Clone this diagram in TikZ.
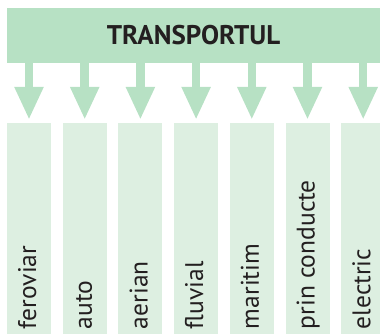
\documentclass[tikz,border=0pt]{standalone}
\usepackage{fontspec}
\setmainfont{PT Sans}
\usepackage{tikz}
\usetikzlibrary{positioning,arrows.meta}
\definecolor{headgreen}{RGB}{183,225,196}
\definecolor{palegreen}{RGB}{221,239,225}
\definecolor{titleink}{RGB}{35,31,32}

\begin{document}
\begin{tikzpicture}[x=1pt,y=-1pt,
  hdr/.style={rectangle,fill=headgreen,minimum width=373pt,minimum height=55pt,
    inner sep=0pt,text=titleink,font=\fontsize{27}{30}\selectfont\bfseries},
  column/.style={rectangle,fill=palegreen,minimum width=44pt,minimum height=211pt,inner sep=0pt},
  lbl/.style={rotate=90,anchor=west,inner sep=0pt,text height=0.72em,text depth=0pt,
    text=titleink,font=\fontsize{25.5}{28}\selectfont},
  fatarrow/.style={draw=headgreen,line width=8.5pt,shorten >=3pt,
    -{Triangle[length=33pt,width=27pt]}}
]
\useasboundingbox (0,0) rectangle (380,334);
\clip (0,0) rectangle (380,334);

% Top: the main box
\node[hdr] (hdr) at (193.5,35.5) {TRANSPORTUL};

% Bottom: one column per kind of transport
\foreach \kind [count=\i] in {feroviar,auto,aerian,fluvial,maritim,prin conducte,electric} {
  \node[column] (col\i) at ({29+55.7*(\i-1)},228.5) {};
  \node[lbl] (lbl\i) at ([xshift=3.5pt,yshift=5pt]col\i.south) {\kind};
  \draw[fatarrow] (hdr.south -| col\i.north) -- (col\i.north);
}

\end{tikzpicture}
\end{document}
